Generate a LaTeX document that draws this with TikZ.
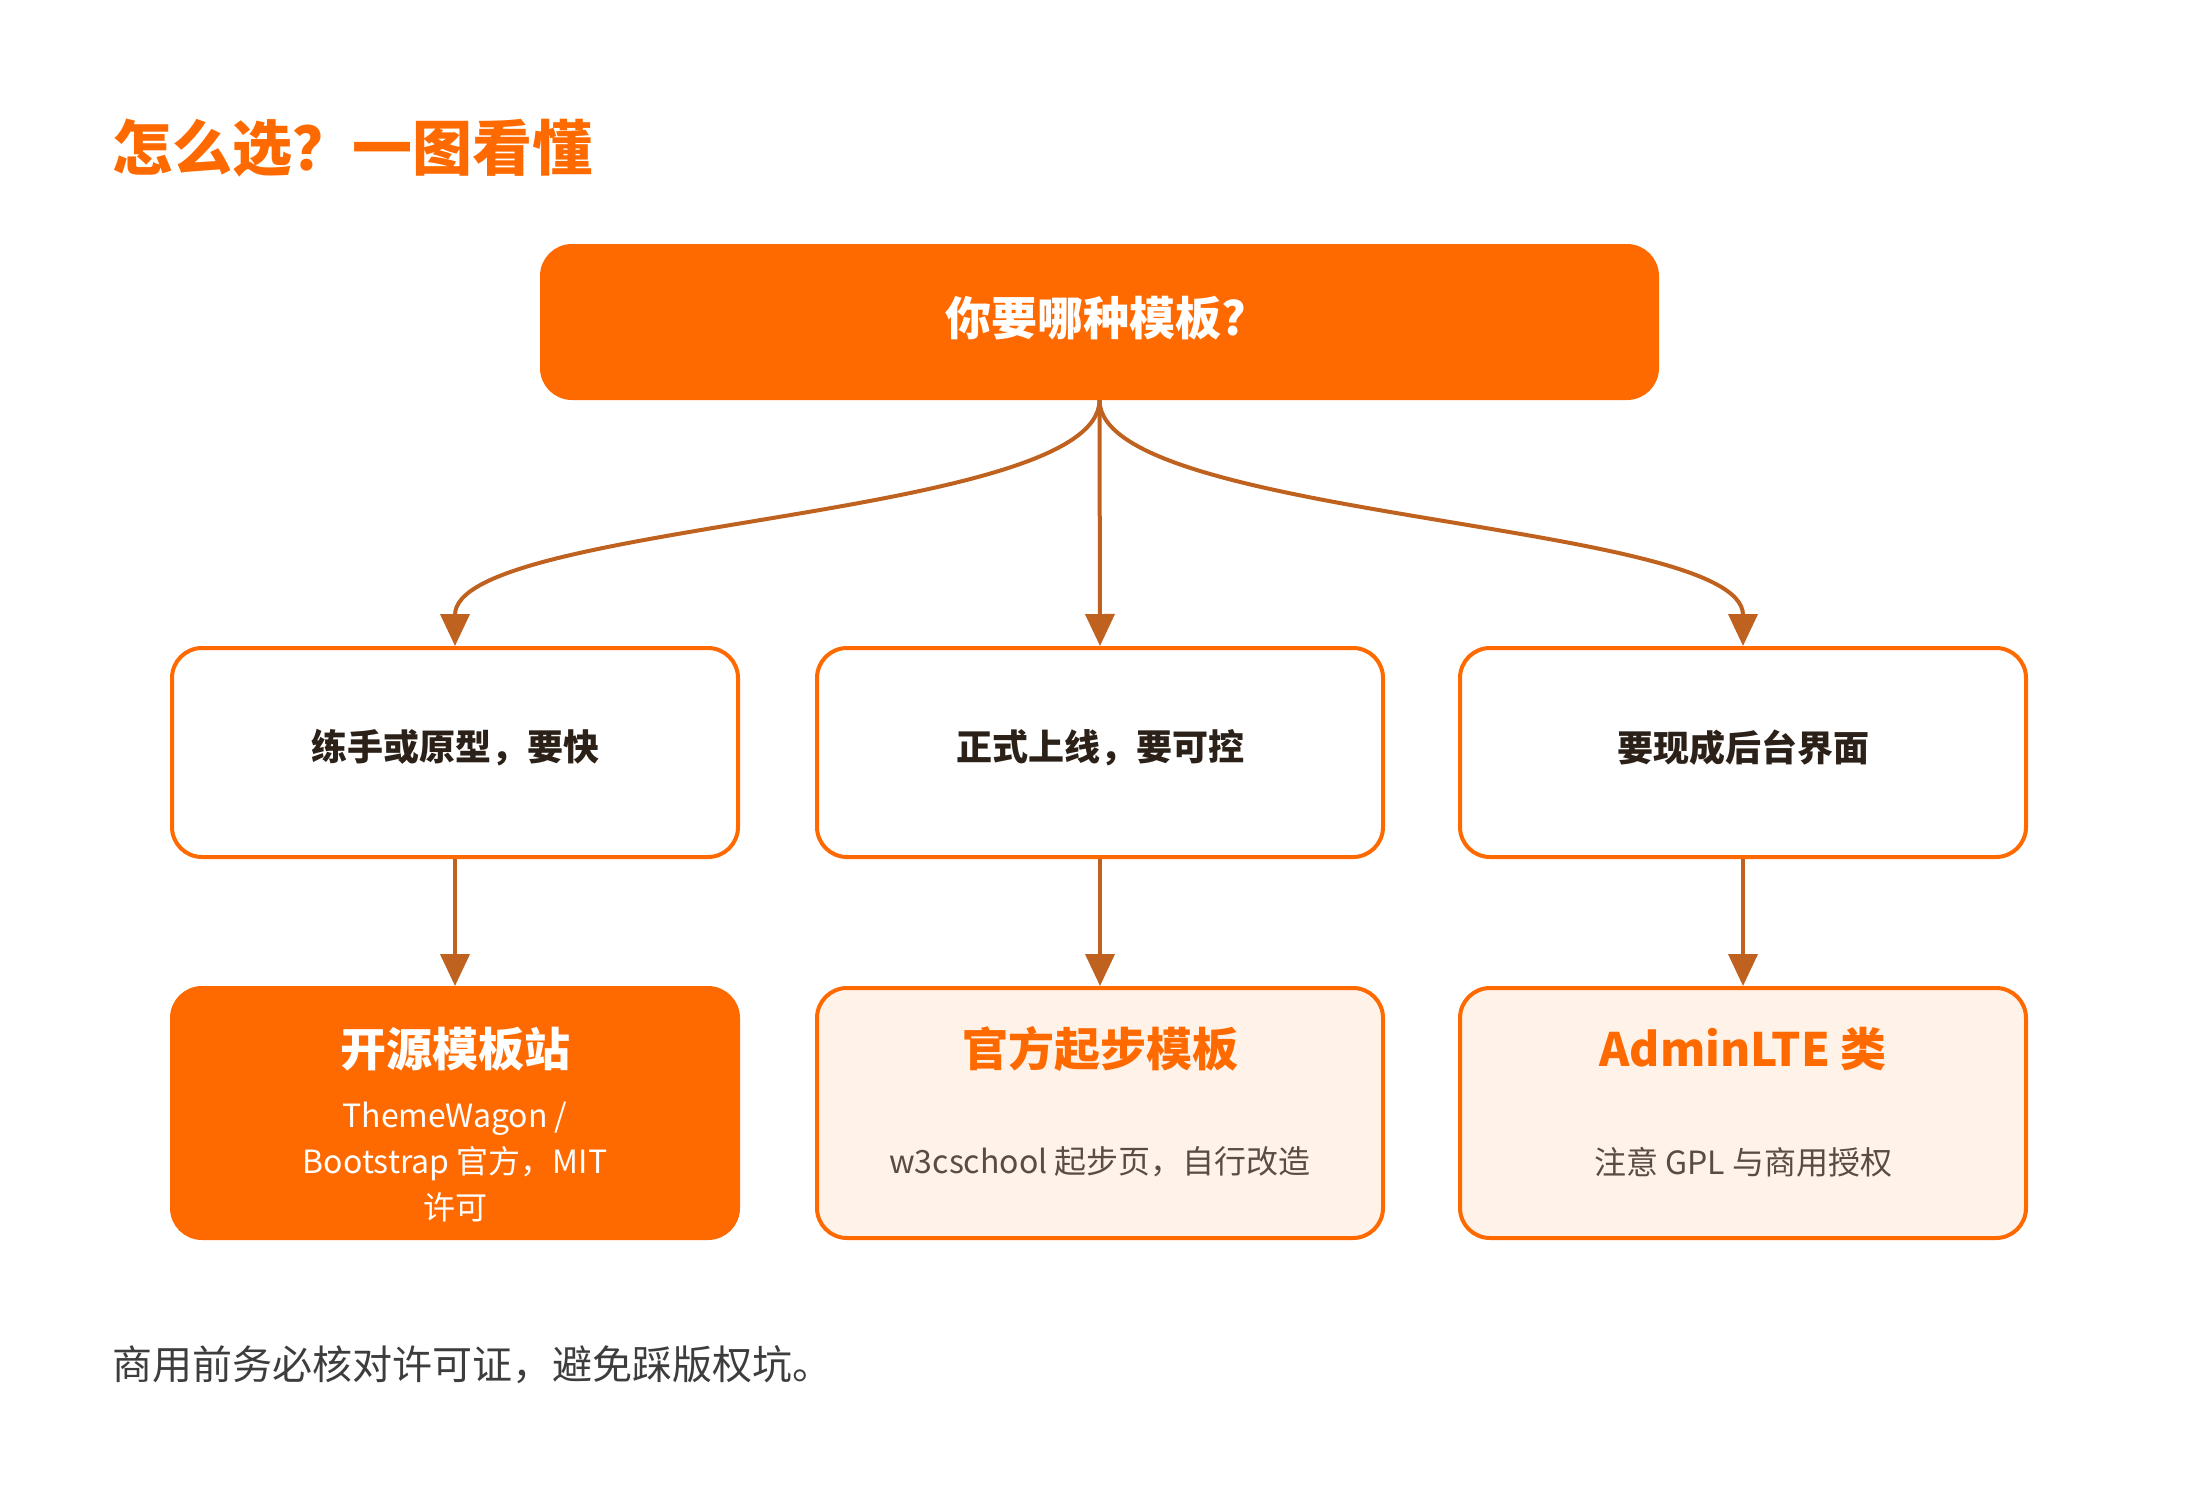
\documentclass[tikz,border=0pt]{standalone}
\usepackage{fontspec}
\setmainfont{Noto Sans CJK SC}
\usetikzlibrary{arrows.meta}
\definecolor{org}{HTML}{FF6A00}
\definecolor{cream}{HTML}{FFF2E8}
\definecolor{arrc}{HTML}{C0621F}
\definecolor{dark}{HTML}{2B2118}
\definecolor{subc}{HTML}{5A4C42}
\definecolor{footc}{HTML}{3D3D3D}
\tikzset{
  topbox/.style={draw=org, fill=org, line width=2pt, rounded corners=15pt, minimum width=557.5pt, minimum height=76pt, inner sep=0pt},
  midbox/.style={draw=org, fill=white, line width=2pt, rounded corners=15pt, minimum width=283pt, minimum height=104.5pt, inner sep=0pt},
  botbox/.style={draw=org, fill=cream, line width=2pt, rounded corners=15pt, minimum width=283pt, minimum height=125pt, inner sep=0pt},
  botfill/.style={botbox, fill=org},
  lbl/.style={inner sep=0pt, align=center},
  arr/.style={draw=arrc, line width=2pt, -{Triangle[length=16pt, width=14.5pt]}},
}
\begin{document}
\begin{tikzpicture}[x=0.5pt, y=-0.5pt]
\useasboundingbox (0,0) rectangle (2200,1488);
% title
\node[lbl, anchor=west, text=org, font=\fontsize{30pt}{36pt}\selectfont\bfseries] (title) at (112,148) {怎么选？一图看懂};
% top
\node[topbox] (top) at (1099.5,322) {};
\node[lbl, text=white, font=\fontsize{23pt}{28pt}\selectfont\bfseries] (toptxt) at (1096,318) {你要哪种模板?};
% middle
\node[midbox] (m1) at (455,752.5) {};
\node[midbox] (m2) at (1100,752.5) {};
\node[midbox] (m3) at (1743,752.5) {};
\node[lbl, text=dark, font=\fontsize{18pt}{22pt}\selectfont\bfseries] (m1t) at (455,748) {练手或原型，要快};
\node[lbl, text=dark, font=\fontsize{18pt}{22pt}\selectfont\bfseries] (m2t) at (1100,748) {正式上线，要可控};
\node[lbl, text=dark, font=\fontsize{18pt}{22pt}\selectfont\bfseries] (m3t) at (1743,748) {要现成后台界面};
% bottom
\node[botfill] (b1) at (455,1113) {};
\node[botbox] (b2) at (1100,1113) {};
\node[botbox] (b3) at (1743,1113) {};
\node[lbl, text=white, font=\fontsize{23pt}{27pt}\selectfont\bfseries] (b1t) at (455,1049) {开源模板站};
\node[lbl, text=org, font=\fontsize{23pt}{27pt}\selectfont\bfseries] (b2t) at (1100,1049) {官方起步模板};
\node[lbl, text=org, font=\fontsize{23pt}{27pt}\selectfont\bfseries] (b3t) at (1743,1049) {AdminLTE 类};
\node[lbl, text=white, font=\fontsize{16pt}{23pt}\selectfont] (b1s) at (455,1162) {ThemeWagon /\\Bootstrap 官方，MIT\\许可};
\node[lbl, text=subc, font=\fontsize{16pt}{23pt}\selectfont] (b2s) at (1100,1162) {w3cschool 起步页，自行改造};
\node[lbl, text=subc, font=\fontsize{16pt}{23pt}\selectfont] (b3s) at (1743,1162) {注意 GPL 与商用授权};
% footer
\node[lbl, anchor=west, text=footc, font=\fontsize{20pt}{24pt}\selectfont] (foot) at (112,1365) {商用前务必核对许可证，避免踩版权坑。};
% connectors
\draw[arr] (top.south) .. controls +(0,120) and +(0,-125) .. (m1.north);
\draw[arr] (top.south) -- (m2.north);
\draw[arr] (top.south) .. controls +(0,120) and +(0,-125) .. (m3.north);
\draw[arr] (m1.south) -- (b1.north);
\draw[arr] (m2.south) -- (b2.north);
\draw[arr] (m3.south) -- (b3.north);
\end{tikzpicture}
\end{document}
